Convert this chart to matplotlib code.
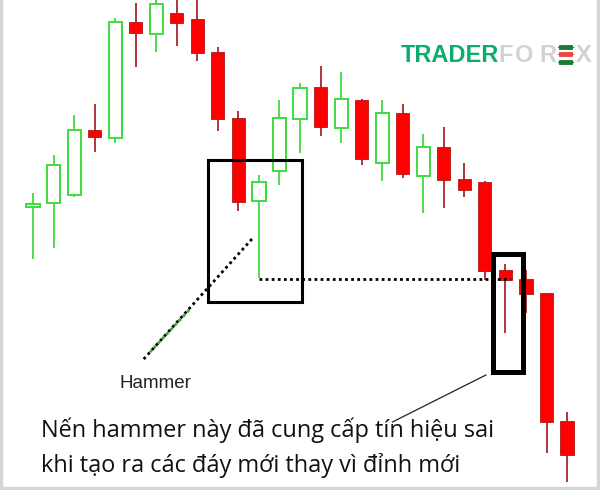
import matplotlib
matplotlib.use("Agg")
import matplotlib.pyplot as plt
from matplotlib.patches import Rectangle
from matplotlib.lines import Line2D
import numpy as np

# ---- data (arbitrary price units) ----
opens  = [293, 297, 305, 370, 362, 478, 466, 487, 481, 448, 382, 299, 329, 381,
          413, 372, 400, 337, 387, 324, 353, 321, 318, 230, 221, 207, 79]
highs  = [307, 345, 385, 396, 482, 497, 502, 502, 502, 453, 389, 325, 400, 417,
          434, 428, 401, 400, 396, 366, 373, 337, 319, 236, 230, 207, 88]
lows   = [241, 252, 303, 348, 357, 433, 448, 454, 439, 369, 289, 222, 315, 347,
          364, 357, 335, 319, 322, 287, 292, 303, 220, 167, 187, 47, 18]
closes = [296, 335, 370, 363, 478, 467, 496, 477, 447, 381, 298, 318, 382, 412,
          373, 401, 341, 387, 326, 353, 320, 310, 229, 220, 206, 78, 45]

hammer_idx = 11
false_idx = 23
hammer_label = "Hammer"
caption = ["Nến hammer này đã cung cấp tín hiệu sai",
           "khi tạo ra các đáy mới thay vì đỉnh mới"]

W, H = 600, 490
fig = plt.figure(figsize=(6, 4.9), dpi=100)
ax = fig.add_axes([0, 0, 1, 1])
ax.set_axis_off()
step = 20.54
xmin = -33 / step
ax.set_xlim(xmin, xmin + W / step)
ax.set_ylim(10, 500)

GREEN = "#3fdc3f"
RED = "#ff0000"
RED_EDGE = "#b01818"
WICK_RED = "#a8262a"
bw = 0.64

n = len(opens)
for i in range(n):
    o, h, l, c = opens[i], highs[i], lows[i], closes[i]
    up = c >= o
    if up:
        ax.plot([i, i], [l, o], color=GREEN, lw=1.3, zorder=2, solid_capstyle="butt")
        ax.plot([i, i], [c, h], color=GREEN, lw=1.3, zorder=2, solid_capstyle="butt")
        ax.add_patch(Rectangle((i - bw / 2, o), bw, c - o, facecolor="white",
                               edgecolor=GREEN, lw=1.4, zorder=3))
    else:
        ax.plot([i, i], [l, h], color=WICK_RED, lw=1.3, zorder=2, solid_capstyle="butt")
        ax.add_patch(Rectangle((i - bw / 2, c), bw, o - c, facecolor=RED,
                               edgecolor=RED_EDGE, lw=0.6, zorder=3))

# hammer box
hx0, hx1 = hammer_idx - 2.47, hammer_idx + 2.1
ax.add_patch(Rectangle((hx0, 198), hx1 - hx0, 340 - 198, fill=False,
                       edgecolor="black", lw=2.2, zorder=5))
# false-signal box
ax.add_patch(Rectangle((false_idx - 0.62, 128), 1.5, 246 - 128, fill=False,
                       edgecolor="black", lw=3.6, zorder=5))
# horizontal dotted line at hammer low
hl = lows[hammer_idx] - 1
ax.plot([hammer_idx, false_idx + 0.2], [hl, hl], color="black", lw=2,
        linestyle=(0, (1, 1.2)), zorder=4)
# diagonal dotted pointer
ax.plot([hammer_idx - 0.34, 5.35], [261, 140], color="black", lw=2,
        linestyle=(0, (1, 1.2)), zorder=4)
ax.plot([7.6, 5.7], [190, 148], color="#33aa33", lw=2,
        linestyle=(0, (1, 1.2)), zorder=4)
# pointer to caption
ax.plot([false_idx - 0.95, 17.5], [125, 78], color="#222222", lw=0.9, zorder=4)

fig.text(155 / W, 1 - 383 / H, hammer_label, fontsize=13.5, color="#222222",
         family="Liberation Sans", ha="center", va="center")
for k, line in enumerate(caption):
    fig.text(41 / W, 1 - (430 + 35 * k) / H, line, fontsize=16.9, color="#111111",
             family=["Open Sans", "DejaVu Sans"], ha="left", va="center")

# logo
fig.text(401 / W, 1 - 55 / H, "TRADER", fontsize=17, fontweight="bold",
         color="#0aae6a", family="Liberation Sans", ha="left", va="center")
for ch, xp in zip(["F", "O", "R", "X"], [498, 515, 539, 576]):
    fig.text(xp / W, 1 - 55 / H, ch, fontsize=17, fontweight="bold",
             color="#d2d2d2", family="Liberation Sans", ha="left", va="center")
for yy, col in [(47, "#1e7a2e"), (54, "#ee4444"), (62, "#1e7a2e")]:
    fig.add_artist(Line2D([558 / W, 573 / W], [1 - yy / H, 1 - yy / H],
                          color=col, lw=0.8))
    fig.add_artist(Line2D([561 / W, 570 / W], [1 - yy / H, 1 - yy / H],
                          color=col, lw=3.5))

# light gray frame (left, right, bottom)
for xs, ys in [([1 / W, 1 / W], [0, 1]), ([598 / W, 598 / W], [0, 1]),
               ([0, 1], [2 / H, 2 / H])]:
    fig.add_artist(Line2D(xs, ys, color="#d6d6d6", lw=2.5))

fig.savefig("out.png", dpi=100, facecolor="white")
